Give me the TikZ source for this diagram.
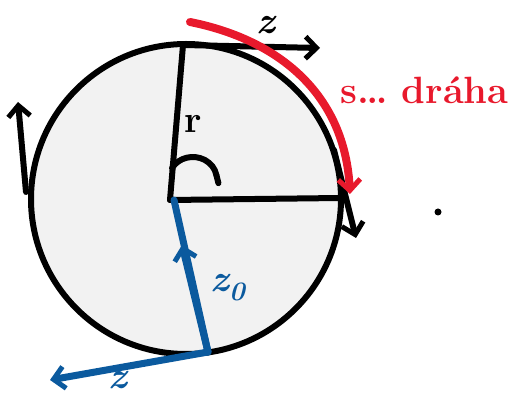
\documentclass[tikz,border=0pt]{standalone}
\usepackage{fontspec}
\usetikzlibrary{arrows.meta}
\definecolor{wheelfill}{HTML}{F2F2F2}
\definecolor{sred}{HTML}{E8192C}
\definecolor{sblue}{HTML}{0B5A9E}
\begin{document}
\begin{tikzpicture}[x=1pt,y=-1pt,
  blk/.style={line width=6pt,line cap=round,line join=round},
  arr/.style={-{Straight Barb[length=11pt,width=22pt,line width=5pt]}},
  lab/.style={font=\bfseries\fontsize{38}{40}\selectfont},
  ilab/.style={font=\bfseries\itshape\fontsize{38}{40}\selectfont,inner sep=0pt},
]
\useasboundingbox (0,0) rectangle (515,395);
% wheel
\node[circle,draw,line width=6pt,fill=wheelfill,minimum size=310pt,inner sep=0pt] (wheel) at (186,199) {};
\coordinate (C) at (170,200);
\coordinate (T) at (183,45);
\coordinate (R) at (340,198);
\coordinate (B) at (208,352);
% radii
\draw[blk] (C) -- (T);
\draw[blk] (C) -- (R);
% right angle mark
\draw[blk] (172,168) arc[start angle=150,end angle=10,x radius=24,y radius=-22] coordinate (ra);
\draw[blk] (ra) -- ++(2,8);
\node[lab] (r) at (193,124) {r};
% tangent arrows
\coordinate (L1) at (26,192);
\coordinate (L2) at (18,102);
\draw[blk,arr] (L1) -- (L2);
\coordinate (R1) at (334,150);
\coordinate (R2) at (356,238);
\draw[blk,arr] (R1) -- (R2);
\coordinate (Ttip) at (320,48);
\draw[blk,arr] (T) -- (Ttip);
\node[ilab] (v) at (266,25) {z};
% red arc
\coordinate (S1) at (190,22);
\coordinate (S2) at (350,194);
\draw[line width=8pt,color=sred,line cap=round,arr] (S1) .. controls (280,40) and (345,95) .. (S2);
\node[lab,text=sred,anchor=west,inner sep=0pt] (s) at (340,90) {s\ldots\ dráha};
% dot
\node[circle,fill=black,inner sep=0pt,minimum size=7pt] (dot) at (438,212) {};
% blue
\coordinate (Bmid) at (182,245);
\draw[line width=7pt,color=sblue,line cap=round] (B) -- (174,200);
\draw[line width=7pt,color=sblue,line cap=round,arr] (B) -- (Bmid);
\coordinate (BL) at (50,380);
\draw[line width=7pt,color=sblue,line cap=round,line join=round,arr] (B) -- (BL);
\node[ilab,text=sblue] (z0) at (228,288) {z\textsubscript{0}};
\node[ilab,text=sblue] (zb) at (118,380) {z};
\end{tikzpicture}
\end{document}
